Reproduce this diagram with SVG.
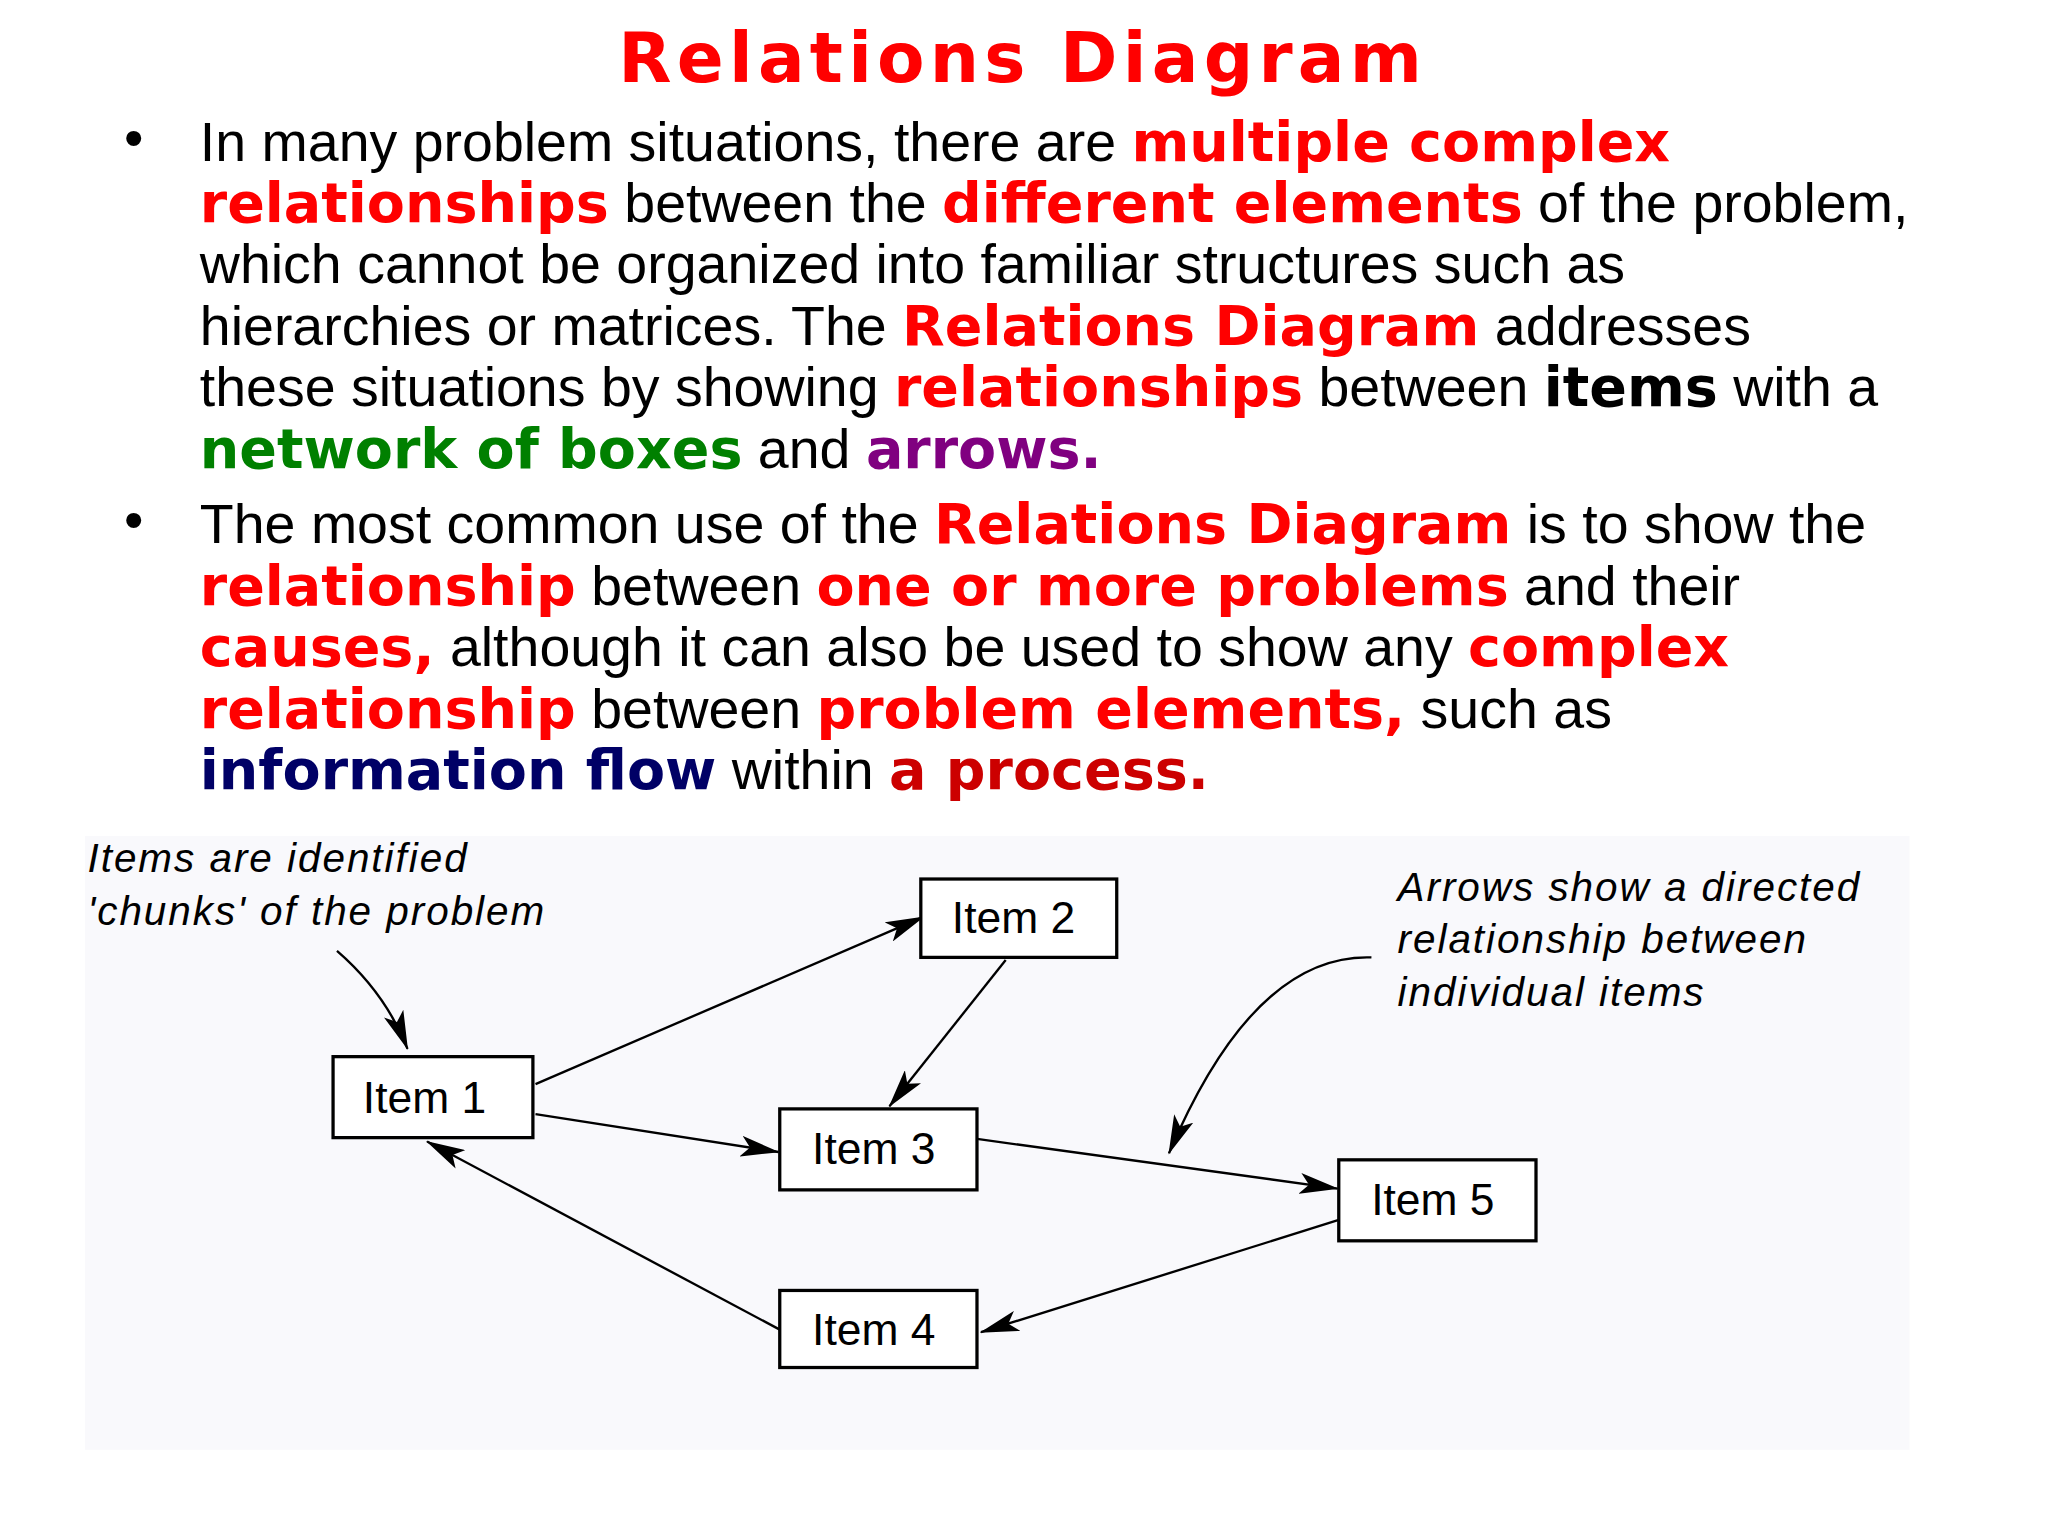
<svg xmlns="http://www.w3.org/2000/svg" width="2048" height="1536" viewBox="0 0 2048 1536">
<style>
.n{font-family:"Liberation Sans",Arial,sans-serif;font-size:42.5px;fill:#000}
.b{font-family:"DejaVu Sans",sans-serif;font-weight:bold}
.r{fill:#ff0000}.g{fill:#008000}.p{fill:#800080}.k{fill:#000}.nv{fill:#000066}.dr{fill:#cc0000}
.box{fill:#fff;stroke:#000;stroke-width:2.5}
.lbl{font-family:"Liberation Sans",Arial,sans-serif;font-size:34px;fill:#000}
.ann{font-family:"Liberation Sans",Arial,sans-serif;font-style:italic;font-size:31px;letter-spacing:1.5px;fill:#000}
.c{fill:none;stroke:#000;stroke-width:1.8;marker-end:url(#ah)}
</style>
<defs><marker id="ah" markerWidth="30" markerHeight="16" refX="29" refY="8" orient="auto" markerUnits="userSpaceOnUse"><path d="M0,0 L30,8 L0,16 L7,8 Z" fill="#000"/></marker></defs>
<rect width="2048" height="1536" fill="#fff"/>
<g transform="scale(1.30612)">
<text x="783" y="63" text-anchor="middle" font-family="DejaVu Sans,sans-serif" font-weight="bold" font-size="53" letter-spacing="4" fill="#ff0000">Relations Diagram</text>
<g id="text">
<text x="95" y="120" class="n">•</text>
<text x="95" y="413" class="n">•</text>
<text x="153" y="123" class="n">In many problem situations, there are <tspan class="b r">multiple complex</tspan></text>
<text x="153" y="170" class="n"><tspan class="b r">relationships</tspan> between the <tspan class="b r">different elements</tspan> of the problem,</text>
<text x="153" y="217" class="n">which cannot be organized into familiar structures such as</text>
<text x="153" y="264" class="n">hierarchies or matrices. The <tspan class="b r">Relations Diagram</tspan> addresses</text>
<text x="153" y="311" class="n">these situations by showing <tspan class="b r">relationships</tspan> between <tspan class="b k">items</tspan> with a</text>
<text x="153" y="358" class="n"><tspan class="b g">network of boxes</tspan> and <tspan class="b p">arrows.</tspan></text>
<text x="153" y="416" class="n">The most common use of the <tspan class="b r">Relations Diagram</tspan> is to show the</text>
<text x="153" y="463" class="n"><tspan class="b r">relationship</tspan> between <tspan class="b r">one or more problems</tspan> and their</text>
<text x="153" y="510" class="n"><tspan class="b r">causes,</tspan> although it can also be used to show any <tspan class="b r">complex</tspan></text>
<text x="153" y="557" class="n"><tspan class="b r">relationship</tspan> between <tspan class="b r">problem elements,</tspan> such as</text>
<text x="153" y="604" class="n"><tspan class="b nv">information flow</tspan> within <tspan class="b dr">a process.</tspan></text>
</g>
<rect x="65" y="640" width="1397" height="470" fill="#f9f9fc"/>
<g id="connectors">
<line class="c" x1="410" y1="830" x2="707" y2="702"/>
<line class="c" x1="770" y1="735" x2="681" y2="847"/>
<line class="c" x1="410" y1="853" x2="596" y2="882"/>
<line class="c" x1="748" y1="872" x2="1024" y2="910"/>
<line class="c" x1="1025" y1="934" x2="751" y2="1020"/>
<line class="c" x1="597" y1="1018" x2="327" y2="874"/>
<path class="c" d="M258,728 Q295,760 312,803"/>
<path class="c" d="M1050,733 Q960,730 895,883"/>
</g>
<g id="item1"><rect class="box" x="255" y="809" width="153" height="62"/><text class="lbl" x="325" y="852" text-anchor="middle">Item 1</text></g>
<g id="item2"><rect class="box" x="705" y="673" width="150" height="60"/><text class="lbl" x="776" y="714" text-anchor="middle">Item 2</text></g>
<g id="item3"><rect class="box" x="597" y="849" width="151" height="62"/><text class="lbl" x="669" y="891" text-anchor="middle">Item 3</text></g>
<g id="item4"><rect class="box" x="597" y="988" width="151" height="59"/><text class="lbl" x="669" y="1030" text-anchor="middle">Item 4</text></g>
<g id="item5"><rect class="box" x="1025" y="888" width="151" height="62"/><text class="lbl" x="1097" y="930" text-anchor="middle">Item 5</text></g>
<g id="notes">
<text class="ann" x="67" y="668">Items are identified</text>
<text class="ann" x="67" y="708">'chunks' of the problem</text>
<text class="ann" x="1070" y="690">Arrows show a directed</text>
<text class="ann" x="1070" y="730">relationship between</text>
<text class="ann" x="1070" y="770">individual items</text>
</g>
</g>
</svg>
